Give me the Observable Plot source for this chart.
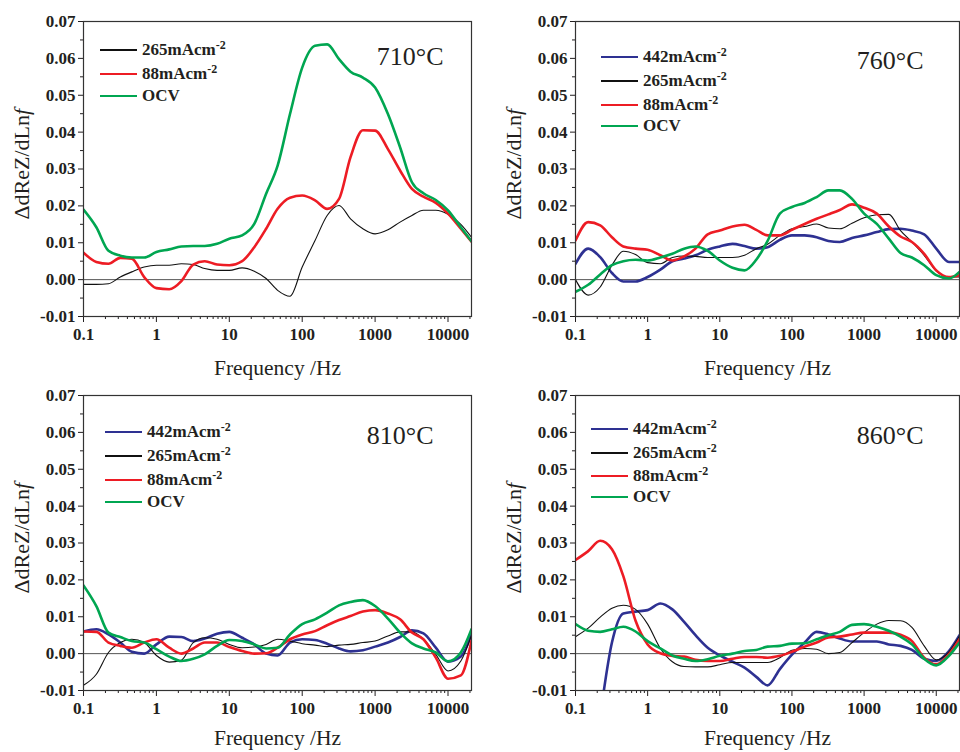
<!DOCTYPE html>
<html><head><meta charset="utf-8">
<script src="https://cdn.jsdelivr.net/npm/d3@7"></script>
<script src="https://cdn.jsdelivr.net/npm/@observablehq/plot@0.6"></script>
<style>
body{margin:0;background:#fff;}
#wrap{position:relative;width:960px;height:752px;overflow:hidden;font-family:"Liberation Serif","Times New Roman",serif;}
.panel{position:absolute;width:480px;height:376px;}
.panel svg{overflow:visible;display:block;}
.leg-item{position:absolute;height:0;}
.leg-item .ln{position:absolute;left:0;width:37px;}
.leg-item .tx{position:absolute;left:42px;top:-9px;font-weight:bold;font-size:17px;line-height:17px;white-space:nowrap;color:#231f20;font-family:"Liberation Serif","Times New Roman",serif;}
.leg-item .tx sup{font-size:12px;line-height:0;vertical-align:6px;}
</style>
</head><body>
<div id="wrap"></div>
<script>
// ---------- data ----------
const freq = [0.1, 0.15, 0.22, 0.32, 0.46, 0.68, 1, 1.5, 2.2, 3.2, 4.6, 6.8, 10, 15, 22, 32, 46, 68, 100, 150, 220, 320, 460, 680, 1000, 1500, 2200, 3200, 4600, 6800, 10000, 15000, 21000];
const seriesNames = ["442mAcm-2", "265mAcm-2", "88mAcm-2", "OCV"];
const temps = ["710°C", "760°C", "810°C", "860°C"];
const xTickValues = [0.1, 1, 10, 100, 1000, 10000];
const yTickValues = [-0.01, 0, 0.01, 0.02, 0.03, 0.04, 0.05, 0.06, 0.07];

const t710_265 = [-0.0013, -0.0013, -0.0011, 0.0007, 0.0021, 0.0034, 0.0039, 0.0039, 0.0043, 0.0041, 0.0030, 0.0025, 0.0025, 0.0032, 0.0023, 0.0003, -0.0029, -0.0045, 0.0034, 0.0106, 0.0174, 0.0201, 0.0165, 0.0138, 0.0124, 0.0135, 0.0156, 0.0174, 0.0188, 0.0188, 0.0177, 0.0150, 0.0115];
const t710_88 = [0.0073, 0.0048, 0.0043, 0.0059, 0.0057, 0.0007, -0.0023, -0.0026, -0.0004, 0.0041, 0.0050, 0.0041, 0.0039, 0.0050, 0.0088, 0.0138, 0.0192, 0.0222, 0.0228, 0.0215, 0.0192, 0.0219, 0.0332, 0.0405, 0.0404, 0.0354, 0.0296, 0.0246, 0.0225, 0.0208, 0.0179, 0.0138, 0.0103];
const t710_ocv = [0.0190, 0.0142, 0.0078, 0.0065, 0.0060, 0.0060, 0.0075, 0.0082, 0.0090, 0.0091, 0.0091, 0.0097, 0.0111, 0.0120, 0.0151, 0.0233, 0.0309, 0.0449, 0.0575, 0.0634, 0.0638, 0.0598, 0.0564, 0.0548, 0.0521, 0.0449, 0.0359, 0.0264, 0.0234, 0.0216, 0.0188, 0.0142, 0.0104];

const t760_442 = [0.0043, 0.0084, 0.0061, 0.0018, -0.0005, -0.0005, 0.0007, 0.0027, 0.0050, 0.0057, 0.0066, 0.0081, 0.0090, 0.0097, 0.0091, 0.0084, 0.0088, 0.0108, 0.0120, 0.0120, 0.0115, 0.0105, 0.0102, 0.0113, 0.0120, 0.0129, 0.0137, 0.0138, 0.0133, 0.0123, 0.0084, 0.0048, 0.0048];
const t760_265 = [0.0000, -0.0042, -0.0020, 0.0039, 0.0077, 0.0068, 0.0046, 0.0043, 0.0060, 0.0064, 0.0063, 0.0060, 0.0060, 0.0060, 0.0066, 0.0084, 0.0096, 0.0120, 0.0138, 0.0144, 0.0151, 0.0140, 0.0138, 0.0153, 0.0168, 0.0176, 0.0177, 0.0133, 0.0102, 0.0066, 0.0023, 0.0007, 0.0007];
const t760_88 = [0.0106, 0.0156, 0.0147, 0.0115, 0.0090, 0.0084, 0.0081, 0.0066, 0.0052, 0.0063, 0.0084, 0.0123, 0.0133, 0.0144, 0.0149, 0.0135, 0.0120, 0.0120, 0.0135, 0.0151, 0.0165, 0.0177, 0.0189, 0.0204, 0.0195, 0.0179, 0.0144, 0.0117, 0.0102, 0.0070, 0.0025, 0.0007, 0.0012];
const t760_ocv = [-0.0033, -0.0014, 0.0014, 0.0039, 0.0050, 0.0054, 0.0052, 0.0060, 0.0070, 0.0084, 0.0090, 0.0078, 0.0052, 0.0032, 0.0025, 0.0054, 0.0105, 0.0179, 0.0197, 0.0208, 0.0224, 0.0242, 0.0242, 0.0219, 0.0179, 0.0151, 0.0111, 0.0072, 0.0060, 0.0039, 0.0012, 0.0003, 0.0021];

const t810_442 = [0.0060, 0.0066, 0.0052, 0.0030, 0.0005, 0.0000, 0.0025, 0.0046, 0.0045, 0.0034, 0.0041, 0.0054, 0.0059, 0.0043, 0.0025, 0.0000, -0.0005, 0.0030, 0.0039, 0.0037, 0.0027, 0.0014, 0.0006, 0.0009, 0.0019, 0.0030, 0.0045, 0.0063, 0.0055, 0.0016, -0.0022, -0.0008, 0.0052];
const t810_265 = [-0.0086, -0.0056, 0.0003, 0.0030, 0.0039, 0.0030, -0.0005, -0.0023, -0.0018, 0.0030, 0.0043, 0.0039, 0.0025, 0.0016, 0.0018, 0.0025, 0.0039, 0.0034, 0.0027, 0.0023, 0.0019, 0.0023, 0.0025, 0.0030, 0.0034, 0.0048, 0.0059, 0.0059, 0.0039, -0.0002, -0.0047, -0.0020, 0.0050];
const t810_88 = [0.0060, 0.0059, 0.0030, 0.0021, 0.0016, 0.0030, 0.0039, 0.0016, 0.0000, 0.0014, 0.0030, 0.0030, 0.0018, 0.0007, 0.0000, 0.0001, 0.0016, 0.0039, 0.0052, 0.0061, 0.0077, 0.0091, 0.0102, 0.0114, 0.0118, 0.0109, 0.0093, 0.0057, 0.0039, -0.0011, -0.0068, -0.0059, 0.0035];
const t810_ocv = [0.0185, 0.0129, 0.0057, 0.0045, 0.0034, 0.0030, 0.0012, -0.0008, -0.0020, -0.0014, -0.0002, 0.0021, 0.0037, 0.0034, 0.0025, 0.0014, 0.0016, 0.0052, 0.0080, 0.0093, 0.0111, 0.0131, 0.0140, 0.0145, 0.0129, 0.0095, 0.0057, 0.0028, 0.0014, 0.0003, -0.0021, 0.0003, 0.0066];

const t860_442 = [NaN, NaN, -0.0170, 0.0030, 0.0109, 0.0114, 0.0118, 0.0136, 0.0120, 0.0086, 0.0050, 0.0016, -0.0005, -0.0022, -0.0038, -0.0063, -0.0086, -0.0042, -0.0003, 0.0030, 0.0059, 0.0052, 0.0041, 0.0033, 0.0033, 0.0033, 0.0025, 0.0021, 0.0010, -0.0014, -0.0020, 0.0007, 0.0050];
const t860_265 = [0.0046, 0.0069, 0.0099, 0.0123, 0.0131, 0.0120, 0.0080, 0.0014, -0.0022, -0.0035, -0.0036, -0.0036, -0.0030, -0.0024, -0.0024, -0.0024, -0.0024, -0.0011, 0.0009, 0.0014, 0.0012, 0.0000, 0.0003, 0.0030, 0.0057, 0.0080, 0.0090, 0.0089, 0.0071, 0.0021, -0.0017, 0.0005, 0.0048];
const t860_88 = [0.0254, 0.0278, 0.0306, 0.0283, 0.0210, 0.0089, 0.0025, 0.0001, -0.0006, -0.0008, -0.0017, -0.0020, -0.0020, -0.0014, -0.0009, -0.0009, -0.0011, -0.0006, 0.0005, 0.0019, 0.0030, 0.0044, 0.0046, 0.0052, 0.0057, 0.0057, 0.0057, 0.0051, 0.0034, -0.0011, -0.0029, -0.0002, 0.0039];
const t860_ocv = [0.0080, 0.0062, 0.0059, 0.0066, 0.0073, 0.0060, 0.0034, 0.0014, -0.0005, -0.0014, -0.0020, -0.0015, -0.0006, 0.0000, 0.0007, 0.0010, 0.0019, 0.0021, 0.0027, 0.0028, 0.0039, 0.0050, 0.0059, 0.0078, 0.0080, 0.0073, 0.0062, 0.0046, 0.0025, -0.0014, -0.0032, -0.0006, 0.0030];

// ---------- styles / layout ----------
const seriesStyle = [
  {stroke: "#2e3192", width: 2.6},
  {stroke: "#111111", width: 1.1},
  {stroke: "#ed1c24", width: 2.6},
  {stroke: "#00a651", width: 2.6}
];
const panelData = [
  [null, t710_265, t710_88, t710_ocv],
  [t760_442, t760_265, t760_88, t760_ocv],
  [t810_442, t810_265, t810_88, t810_ocv],
  [t860_442, t860_265, t860_88, t860_ocv]
];
const layout = [
  {left: 0, top: 0, mL: 83, mR: 9, mT: 21, mB: 60, tdx: -28, tdy: 35, xldy: 52, legX: 100, legY: [50, 74, 96]},
  {left: 480, top: 0, mL: 95, mR: 1, mT: 21, mB: 60, tdx: -36, tdy: 39.5, xldy: 52, legX: 121, legY: [57, 81, 105, 126]},
  {left: 0, top: 376, mL: 83, mR: 9, mT: 19, mB: 62, tdx: -38, tdy: 40, xldy: 48, legX: 105, legY: [56, 80, 104, 126]},
  {left: 480, top: 376, mL: 95, mR: 1, mT: 19, mB: 62, tdx: -36, tdy: 40, xldy: 48, legX: 111, legY: [53, 77, 100, 121]}
];

const xMinor = [];
for (let e = -1; e <= 4; e++) for (let m = 2; m <= 9; m++) { const v = m * Math.pow(10, e); if (v <= 21000) xMinor.push(+v.toPrecision(3)); }
const yMinor = d3.range(-0.005, 0.07, 0.01);

const wrap = document.getElementById("wrap");
const serif = "Liberation Serif, Times New Roman, serif";

panelData.forEach((seriesList, p) => {
  const L = layout[p];
  const marks = [];
  marks.push(Plot.ruleY([0], {stroke: "#555", strokeWidth: 1}));
  seriesList.forEach((vals, s) => {
    if (!vals) return;
    marks.push(Plot.line(freq, {x: d => d, y: (d, i) => vals[i], curve: "monotone-x", stroke: seriesStyle[s].stroke, strokeWidth: seriesStyle[s].width, clip: true}));
  });
  marks.push(
    Plot.axisY(yTickValues, {tickSize: 5, tickPadding: 3, tickFormat: d => d.toFixed(2), fontSize: 17, fontWeight: "bold", fontFamily: serif, label: null}),
    Plot.axisY(yMinor, {tickSize: 3, tickFormat: () => "", label: null}),
    Plot.axisX(xTickValues, {tickSize: 6, tickPadding: 5, tickFormat: d => String(d), fontSize: 17, fontWeight: "bold", fontFamily: serif, label: null}),
    Plot.axisX(xMinor, {tickSize: 3, tickFormat: () => "", label: null}),
    Plot.text(["ΔdReZ/dLn"], {text: d => d, frameAnchor: "left", rotate: -90, textAnchor: "end", lineAnchor: "middle", dx: -62, dy: -54, fontSize: 22, fontWeight: "normal", fontFamily: serif}),
    Plot.text(["f"], {text: d => d, frameAnchor: "left", rotate: -90, textAnchor: "start", lineAnchor: "middle", dx: -62, dy: -54, fontSize: 22, fontWeight: "normal", fontStyle: "italic", fontFamily: serif}),
    Plot.text(["Frequency /Hz"], {text: d => d, frameAnchor: "bottom", lineAnchor: "middle", dy: L.xldy, fontSize: 21.5, fontWeight: "normal", fontFamily: serif}),
    Plot.text([temps[p]], {text: d => d, frameAnchor: "top-right", textAnchor: "end", lineAnchor: "middle", dx: L.tdx, dy: L.tdy, fontSize: 26, fontWeight: "normal", fontFamily: serif}),
    Plot.frame({stroke: "#333", strokeWidth: 1.2})
  );
  const svg = Plot.plot({
    width: 480, height: 376,
    marginLeft: L.mL, marginRight: L.mR, marginTop: L.mT, marginBottom: L.mB,
    x: {type: "log", domain: [0.1, 21000]},
    y: {domain: [-0.01, 0.07]},
    style: {fontFamily: serif, fontSize: "17px", color: "#231f20", background: "transparent", overflow: "visible"},
    marks
  });
  const div = document.createElement("div");
  div.className = "panel";
  div.style.left = L.left + "px";
  div.style.top = L.top + "px";
  div.appendChild(svg);
  // legend
  let k = 0;
  seriesList.forEach((vals, s) => {
    if (!vals) return;
    const y = L.legY[k++];
    const item = document.createElement("div");
    item.className = "leg-item";
    item.style.left = L.legX + "px";
    item.style.top = y + "px";
    const ln = document.createElement("div");
    ln.className = "ln";
    ln.style.height = seriesStyle[s].width + "px";
    ln.style.top = (-seriesStyle[s].width / 2) + "px";
    ln.style.background = seriesStyle[s].stroke;
    const tx = document.createElement("div");
    tx.className = "tx";
    const name = seriesNames[s];
    const m = name.match(/^(.*?)(-2)?$/);
    tx.textContent = m[1];
    if (m[2]) { const sup = document.createElement("sup"); sup.textContent = m[2]; tx.appendChild(sup); }
    item.appendChild(ln);
    item.appendChild(tx);
    div.appendChild(item);
  });
  wrap.appendChild(div);
});
</script>
</body></html>
